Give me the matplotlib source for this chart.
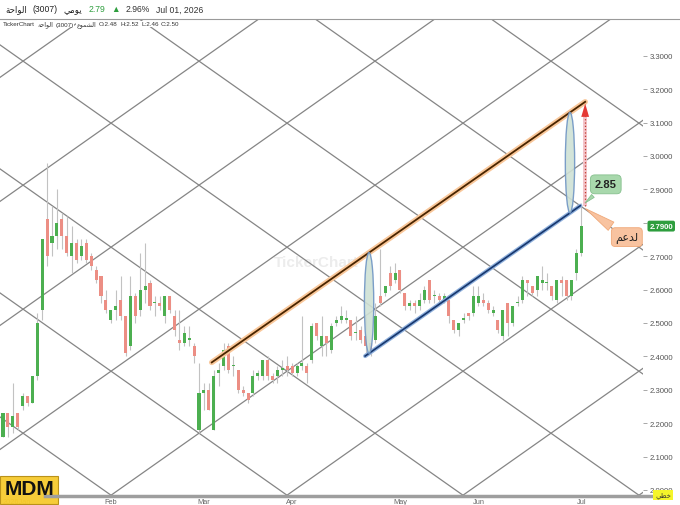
import numpy as np
import matplotlib
matplotlib.use("Agg")
import matplotlib.pyplot as plt
from matplotlib.patches import Ellipse, Rectangle, Polygon
from matplotlib.lines import Line2D

plt.rcParams['font.family'] = ['Liberation Sans', 'DejaVu Sans']

# Al Wahah (3007) daily candles, Jan - Jul 2026
opens = [2.16, 2.23, 2.19, 2.23, 2.25, 2.28, 2.26, 2.34, 2.54, 2.81,
         2.74, 2.76, 2.81, 2.76, 2.70, 2.74, 2.70, 2.74, 2.70, 2.66,
         2.64, 2.57, 2.51, 2.54, 2.57, 2.52, 2.43, 2.58, 2.54, 2.60,
         2.62, 2.56, 2.56, 2.52, 2.58, 2.52, 2.45, 2.44, 2.45, 2.43,
         2.18, 2.29, 2.30, 2.18, 2.35, 2.37, 2.43, 2.37, 2.36, 2.30,
         2.29, 2.29, 2.34, 2.34, 2.39, 2.34, 2.34, 2.36, 2.37, 2.37,
         2.35, 2.37, 2.37, 2.39, 2.50, 2.43, 2.46, 2.42, 2.50, 2.51,
         2.51, 2.51, 2.47, 2.48, 2.46, 2.44, 2.45, 2.58, 2.59, 2.65,
         2.63, 2.66, 2.59, 2.55, 2.56, 2.55, 2.57, 2.63, 2.58, 2.58,
         2.57, 2.57, 2.51, 2.48, 2.51, 2.53, 2.53, 2.56, 2.57, 2.56,
         2.53, 2.51, 2.46, 2.56, 2.50, 2.56, 2.57, 2.63, 2.61, 2.60,
         2.62, 2.62, 2.61, 2.57, 2.63, 2.63, 2.58, 2.65, 2.71]
highs = [2.23, 2.23, 2.32, 2.23, 2.29, 2.28, 2.34, 2.53, 2.75, 2.98,
         2.85, 2.90, 2.83, 2.82, 2.79, 2.75, 2.75, 2.75, 2.71, 2.67,
         2.64, 2.60, 2.54, 2.60, 2.64, 2.52, 2.64, 2.59, 2.71, 2.74,
         2.63, 2.58, 2.58, 2.58, 2.58, 2.54, 2.54, 2.49, 2.49, 2.44,
         2.38, 2.32, 2.32, 2.36, 2.38, 2.44, 2.44, 2.40, 2.36, 2.31,
         2.29, 2.36, 2.36, 2.39, 2.40, 2.35, 2.37, 2.39, 2.40, 2.38,
         2.38, 2.52, 2.38, 2.50, 2.50, 2.52, 2.46, 2.50, 2.52, 2.55,
         2.54, 2.51, 2.52, 2.49, 2.52, 2.44, 2.56, 2.72, 2.61, 2.67,
         2.68, 2.66, 2.59, 2.57, 2.57, 2.59, 2.61, 2.63, 2.60, 2.59,
         2.59, 2.57, 2.51, 2.50, 2.53, 2.53, 2.61, 2.61, 2.59, 2.57,
         2.55, 2.51, 2.54, 2.56, 2.55, 2.58, 2.64, 2.63, 2.61, 2.64,
         2.67, 2.65, 2.61, 2.63, 2.64, 2.63, 2.63, 2.72, 2.86]
lows = [2.16, 2.16, 2.17, 2.18, 2.24, 2.25, 2.26, 2.33, 2.51, 2.67,
        2.70, 2.72, 2.72, 2.70, 2.65, 2.68, 2.69, 2.68, 2.66, 2.62,
        2.56, 2.53, 2.50, 2.51, 2.51, 2.40, 2.42, 2.50, 2.52, 2.56,
        2.54, 2.52, 2.54, 2.50, 2.53, 2.46, 2.42, 2.43, 2.43, 2.38,
        2.17, 2.24, 2.24, 2.18, 2.31, 2.36, 2.35, 2.34, 2.29, 2.28,
        2.26, 2.28, 2.33, 2.33, 2.33, 2.32, 2.32, 2.34, 2.34, 2.34,
        2.34, 2.36, 2.32, 2.38, 2.45, 2.40, 2.40, 2.41, 2.49, 2.50,
        2.50, 2.45, 2.45, 2.44, 2.41, 2.40, 2.44, 2.55, 2.58, 2.60,
        2.62, 2.59, 2.54, 2.54, 2.53, 2.54, 2.56, 2.56, 2.56, 2.56,
        2.56, 2.50, 2.47, 2.46, 2.50, 2.51, 2.52, 2.55, 2.55, 2.53,
        2.52, 2.47, 2.45, 2.46, 2.49, 2.55, 2.56, 2.58, 2.58, 2.58,
        2.60, 2.60, 2.57, 2.56, 2.58, 2.57, 2.57, 2.63, 2.70]
closes = [2.23, 2.19, 2.22, 2.19, 2.28, 2.26, 2.34, 2.50, 2.75, 2.70,
          2.76, 2.80, 2.76, 2.71, 2.74, 2.69, 2.73, 2.69, 2.67, 2.63,
          2.58, 2.54, 2.54, 2.55, 2.52, 2.41, 2.58, 2.52, 2.60, 2.61,
          2.55, 2.56, 2.55, 2.58, 2.54, 2.48, 2.44, 2.47, 2.45, 2.40,
          2.29, 2.30, 2.24, 2.34, 2.36, 2.42, 2.36, 2.37, 2.30, 2.29,
          2.27, 2.34, 2.35, 2.39, 2.34, 2.33, 2.36, 2.36, 2.36, 2.35,
          2.37, 2.38, 2.35, 2.49, 2.46, 2.46, 2.44, 2.49, 2.51, 2.52,
          2.51, 2.46, 2.47, 2.45, 2.43, 2.42, 2.52, 2.56, 2.61, 2.61,
          2.65, 2.60, 2.55, 2.56, 2.55, 2.57, 2.60, 2.57, 2.58, 2.57,
          2.58, 2.52, 2.48, 2.50, 2.51, 2.52, 2.58, 2.58, 2.56, 2.54,
          2.54, 2.48, 2.54, 2.50, 2.55, 2.56, 2.63, 2.62, 2.59, 2.64,
          2.63, 2.62, 2.58, 2.63, 2.62, 2.58, 2.63, 2.71, 2.79]

# first trading day of each month (candle index)
month_starts = [0, 22, 41, 59, 81, 97, 118]
month_labels = ['2026Jan', 'Feb', 'Mar', 'Apr', 'May', 'Jun', 'Jul']
y_ticks = [2.0, 2.1, 2.2, 2.3, 2.4, 2.5, 2.6, 2.7, 2.8, 2.9, 3.0, 3.1, 3.2, 3.3]

# user drawings: (candle index, price) end points
orange_x, orange_p = [42.6, 118.8], [2.382, 3.162]
blue_x, blue_p = [73.9, 117.8], [2.401, 2.851]
ellipse_x = [74.7, 115.7]
target_label = '2.85'

# diagonal grid anchored on the March low
grid_anchor = 40
grid_slope = 0.01034
grid_step = 0.3713

GREEN = '#4caf50'
RED = '#ec8e84'

fig = plt.figure(figsize=(6.8, 5.06), dpi=100)
W, H = 680, 506
ax = fig.add_axes([0, 9 / H, 643 / W, (497 - 21) / H])
ax.set_xlim(-0.612, 130.6)
ax.set_ylim(1.982, 3.407)

# gann-style diagonal grid
xs = np.array([-5, 140])
x0, p0 = grid_anchor, lows[grid_anchor]
for n in range(-8, 9):
    ax.plot(xs, p0 + grid_slope * (xs - x0) + n * grid_step, color='#858585', lw=0.9, zorder=1)
    ax.plot(xs, p0 - grid_slope * (xs - x0) + n * grid_step, color='#858585', lw=0.9, zorder=1)

# candles
idx = np.arange(len(opens))
o, h, l, c = map(np.array, (opens, highs, lows, closes))
ax.vlines(idx, l, h, color='#c2c2c2', lw=0.8, zorder=2)
body_lo = np.minimum(o, c)
body_h = np.maximum(np.abs(c - o), 0.004)
cols = [GREEN if cc >= oo else RED for oo, cc in zip(o, c)]
ax.bar(idx, body_h, bottom=body_lo, width=0.62, color=cols, zorder=3)

# watermark
ax.text(64, 2.683, 'TickerChart', fontsize=11, fontweight='bold', color='#ececec',
        ha='center', va='center', zorder=0)


def line_at(xq, xs_, ps_):
    return ps_[0] + (ps_[1] - ps_[0]) * (xq - xs_[0]) / (xs_[1] - xs_[0])


# trend lines
ax.plot(orange_x, orange_p, color='#f9c79a', lw=4, solid_capstyle='round', zorder=4)
ax.plot(orange_x, orange_p, color='#4a2500', lw=1.3, zorder=5)
ax.plot(blue_x, blue_p, color='#8fb0dc', lw=3, solid_capstyle='round', zorder=4)
ax.plot(blue_x, blue_p, color='#17376e', lw=1.2, zorder=5)

# channel-width ellipses between the two lines
for ex in ellipse_x:
    top = line_at(ex, orange_x, orange_p)
    bot = line_at(ex, blue_x, blue_p)
    ax.add_patch(Ellipse((ex, (top + bot) / 2), 1.9, top - bot, fc='#cfe1d5', ec='#6f95c4',
                         lw=1, alpha=0.9, zorder=6))

# projected target arrow
tx = orange_x[1]
ax.add_patch(Rectangle((tx - 0.45, blue_p[1]), 0.9, orange_p[1] - blue_p[1] - 0.04,
                       fc='#f3c5cb', ec='none', zorder=6))
ax.plot([tx, tx], [blue_p[1], orange_p[1] - 0.04], color='#c0392b', lw=0.9, ls=':', zorder=7)
ax.add_patch(Polygon([[tx - 0.8, orange_p[1] - 0.045], [tx + 0.8, orange_p[1] - 0.045],
                      [tx, orange_p[1] - 0.005]], closed=True, fc='#e53935', ec='none', zorder=7))

# callouts
ax.annotate(target_label, xy=(blue_x[1] + 0.6, blue_p[1] + 0.003), xytext=(123.0, 2.915),
            fontsize=8, fontweight='bold', color='#222', ha='center', va='center', zorder=8,
            bbox=dict(boxstyle='round,pad=0.4', fc='#a8d8ac', ec='#86c08e', lw=0.6),
            arrowprops=dict(arrowstyle='wedge,tail_width=0.35', fc='#a8d8ac', ec='#86c08e', lw=0.6))
ax.annotate('\uFEE2\uFECB\uFEAA\uFEDF', xy=(blue_x[1] + 0.6, blue_p[1] - 0.004), xytext=(127.3, 2.757),
            fontsize=8, color='#222', ha='center', va='center', zorder=8, family=['DejaVu Sans'],
            bbox=dict(boxstyle='round,pad=0.35', fc='#f8c3a0', ec='#f0a878', lw=0.6),
            arrowprops=dict(arrowstyle='wedge,tail_width=0.9', fc='#f8c3a0', ec='#f0a878', lw=0.6))

# axes styling
for s in ax.spines.values():
    s.set_visible(False)
ax.yaxis.tick_right()
ax.set_yticks(y_ticks)
ax.set_yticklabels([f'{v:.4f}' for v in y_ticks])
ax.tick_params(axis='y', length=3, width=0.6, color='#9a9a9a', labelsize=5.6, labelcolor='#555555', pad=2)
ax.set_xticks(month_starts)
ax.set_xticklabels(month_labels)
ax.tick_params(axis='x', length=0, labelsize=5.3, labelcolor='#666666', pad=1.5)
ax.get_xticklabels()[0].set_horizontalalignment('left')
ax.get_xticklabels()[0].set_color('#b89a30')
ax.set_facecolor('white')

# last price tag
ax.text(1.01, closes[-1], f'{closes[-1]:.4f}', transform=ax.get_yaxis_transform(),
        fontsize=5.6, color='white', fontweight='bold', ha='left', va='center', zorder=9,
        bbox=dict(boxstyle='round,pad=0.25', fc='#2e9e3e', ec='none'))

# header separator and time axis bar
fig.add_artist(Line2D([0, 1], [1 - 20 / H, 1 - 20 / H], color='#9a9a9a', lw=0.8))
fig.add_artist(Line2D([45 / W, 670 / W], [1 - 497 / H, 1 - 497 / H], color='#9e9e9e', lw=2.5))

renderer = fig.canvas.get_renderer()


def text_row(pieces, x_px, y_px, size, gap=4):
    x = x_px / W
    for s, col in pieces:
        t = fig.text(x, 1 - y_px / H, s, color=col, fontsize=size, ha='left', va='center',
                     bbox=dict(fc='white', ec='none', pad=0.3))
        x += (t.get_window_extent(renderer=renderer).width + gap) / W


text_row([('\uFE94\uFEA3\uFE8D\uFEEE\uFEDF\uFE8D', '#222'), ('(3007)', '#222'),
          ('\uFEF2\uFEE3\uFEEE\uFEF3', '#222'), ('2.79', '#2e9e3e'), ('\u25B2', '#2e9e3e'),
          ('2.96%', '#333'), ('Jul 01, 2026', '#333')], 5, 10, 6.2, gap=6)
text_row([('TickerChart', '#333'), ('\uFE94\uFEA3\uFE8D\uFEEE\uFEDF\uFE8D', '#333'), ('(3007)', '#333'),
          ('\uFEC9\uFEEE\uFEE4\uFEB8\uFEDF\uFE8D', '#333'), ('O:2.48', '#333'), ('H:2.52', '#333'),
          ('L:2.46', '#333'), ('C:2.50', '#333')], 3, 25, 4.5, gap=2.5)

# symbol badge and scale label
fig.add_artist(Rectangle((0, 1 / H), 58 / W, 28 / H, transform=fig.transFigure,
                         fc='#f6c92a', ec='#b58c10', lw=0.8, alpha=0.93))
fig.text(29 / W, 1 - 490 / H, 'MDM', fontsize=15, fontweight='bold', color='#111',
         ha='center', va='center')
fig.text(663 / W, 1 - 496 / H, '\uFEF2\uFEC4\uFEA7', fontsize=5, color='#333', ha='center', va='center',
         family=['DejaVu Sans'], bbox=dict(boxstyle='square,pad=0.3', fc='#f5f52a', ec='none'))

fig.savefig('out.png', dpi=100)
